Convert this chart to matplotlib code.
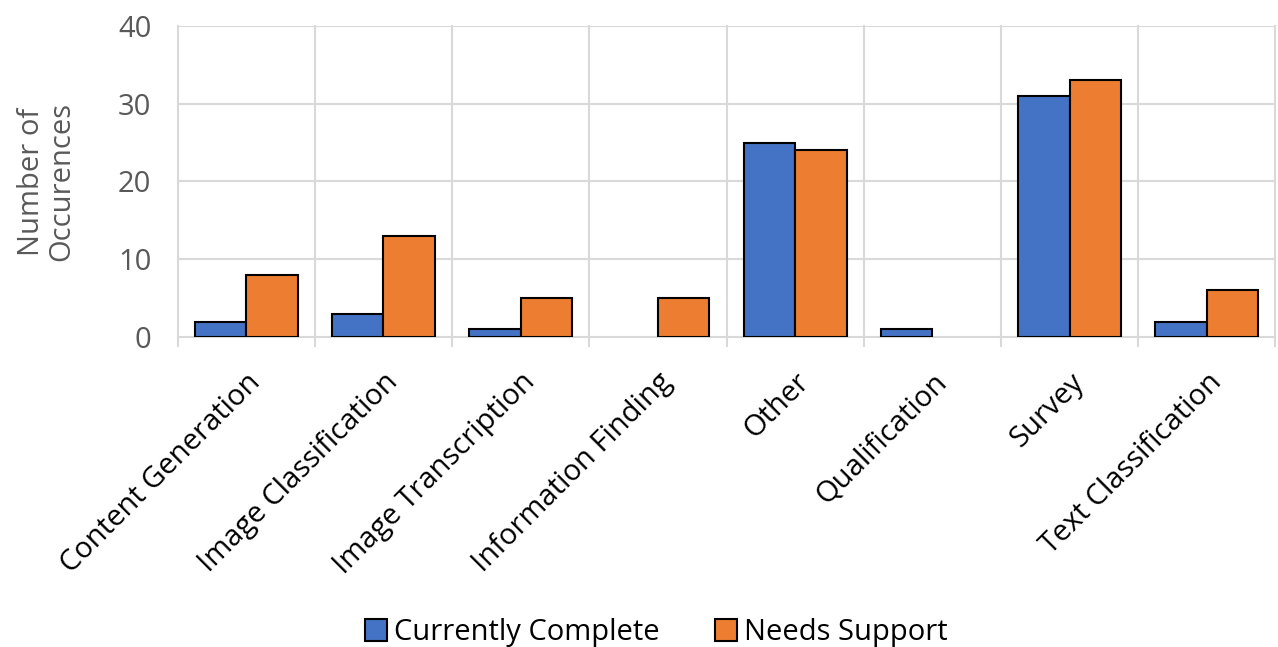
import numpy as np
import matplotlib
matplotlib.use('Agg')
import matplotlib.pyplot as plt

categories = ['Content Generation', 'Image Classification', 'Image Transcription',
              'Information Finding', 'Other', 'Qualification', 'Survey', 'Text Classification']
currently_complete = [2, 3, 1, 0, 25, 1, 31, 2]
needs_support = [8, 13, 5, 5, 24, 0, 33, 6]

plt.rcParams['font.family'] = ['Open Sans', 'DejaVu Sans']

fig = plt.figure(figsize=(12.78, 6.47), dpi=100)
ax = fig.add_axes([0.139, 0.479, 0.859, 0.481])

x = np.arange(len(categories))
w = 0.375
grid_c = '#d9d9d9'

b1 = ax.bar(x - w / 2, currently_complete, w, color='#4472C4', edgecolor='black',
            linewidth=1.5, label='Currently Complete', zorder=3)
b2 = ax.bar(x + w / 2, needs_support, w, color='#ED7D31', edgecolor='black',
            linewidth=1.5, label='Needs Support', zorder=3)
# zero values are not drawn at all
for p in list(b1) + list(b2):
    if p.get_height() == 0:
        p.set_visible(False)

ax.set_xlim(-0.5, len(categories) - 0.5)
ax.set_ylim(0, 40)
ax.set_yticks([0, 10, 20, 30, 40])

# horizontal gridlines
for yv in [10, 20, 30, 40]:
    ax.axhline(yv, color=grid_c, linewidth=1.5, zorder=1)
# vertical category separators, extending a bit below the axis
for b in np.arange(-0.5, len(categories), 1.0):
    ax.plot([b, b], [-1.2, 40], color=grid_c, linewidth=1.5, zorder=1, clip_on=False)

for s in ['top', 'right', 'left']:
    ax.spines[s].set_visible(False)
ax.spines['bottom'].set_color(grid_c)
ax.spines['bottom'].set_linewidth(1.5)

ax.set_xticks(x)
ax.set_xticklabels(categories, rotation=45, ha='right', rotation_mode='anchor',
                   fontsize=21, color='#000000')
ax.tick_params(axis='x', length=0, pad=22)
ax.tick_params(axis='y', length=0, labelsize=21, labelcolor='#595959', pad=19)

ax.set_ylabel('Number of\nOccurences', fontsize=21, color='#595959', labelpad=30,
              linespacing=1.05)

ax.legend(loc='center', bbox_to_anchor=(0.436, -0.95), ncol=2,
          frameon=False, fontsize=21, handlelength=0.75, handleheight=0.75,
          handletextpad=0.25, columnspacing=1.9)

fig.savefig('out.png', dpi=100)
